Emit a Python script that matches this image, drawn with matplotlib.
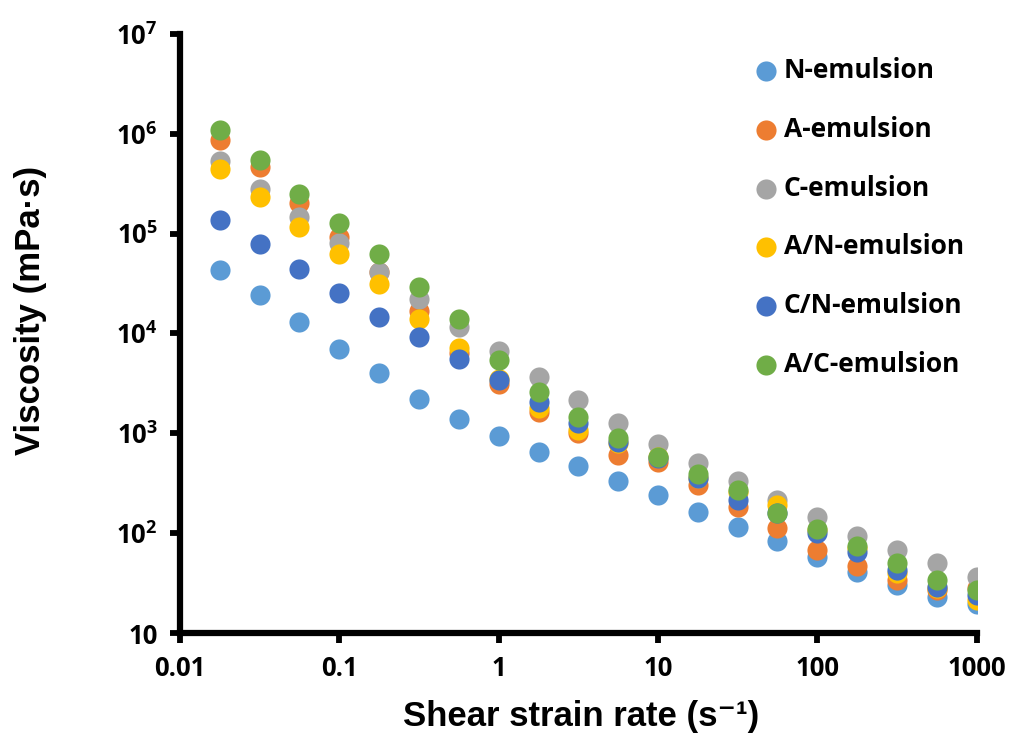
import matplotlib.pyplot as plt

# Shear rates (s^-1), 4 points per decade
shear_rate = [0.0178, 0.0316, 0.0562, 0.1, 0.178, 0.316, 0.562, 1, 1.78, 3.16,
              5.62, 10, 17.8, 31.6, 56.2, 100, 178, 316, 562, 1000]

# Viscosity (mPa·s)
n_emulsion = [43000, 24000, 13000, 7000, 4000, 2200, 1400, 940, 650, 470,
              330, 240, 163, 115, 83, 58, 41, 30, 23, 19.5]
a_emulsion = [870000, 460000, 200000, 93000, 41000, 16600, 6300, 3100, 1650, 1000,
              610, 520, 305, 182, 112, 68, 47, 34, 27, 28]
c_emulsion = [530000, 280000, 147000, 81000, 41000, 22000, 11500, 6600, 3700, 2150,
              1260, 780, 500, 330, 215, 145, 94, 68, 50, 36]
an_emulsion = [440000, 230000, 117000, 62000, 31000, 14000, 7200, 3500, 1780, 1070,
               790, 580, 360, 260, 190, 108, 71, 40, 28, 21.5]
cn_emulsion = [138000, 79000, 44000, 25600, 14700, 9100, 5500, 3450, 2050, 1260,
               820, 560, 360, 215, 160, 100, 65, 43, 29, 24]
ac_emulsion = [1090000, 550000, 250000, 128000, 62000, 29000, 14000, 5400, 2600, 1450,
               890, 580, 390, 270, 160, 110, 74, 50, 34, 27]

series = [
    ('N-emulsion', n_emulsion, '#5B9BD5'),
    ('A-emulsion', a_emulsion, '#ED7D31'),
    ('C-emulsion', c_emulsion, '#A5A5A5'),
    ('A/N-emulsion', an_emulsion, '#FFC000'),
    ('C/N-emulsion', cn_emulsion, '#4472C4'),
    ('A/C-emulsion', ac_emulsion, '#70AD47'),
]

plt.rcParams['mathtext.fontset'] = 'custom'
plt.rcParams['mathtext.bf'] = 'Open Sans:bold'
plt.rcParams['mathtext.rm'] = 'Open Sans:bold'

fig = plt.figure(figsize=(10.11, 7.34), dpi=100)
ax = fig.add_axes([0.178, 0.1376, 0.788, 0.8164])

for name, vals, col in series:
    ax.scatter(shear_rate, vals, s=210, color=col, label=name, linewidths=0, zorder=3)

ax.set_xscale('log')
ax.set_yscale('log')
ax.set_xlim(0.01, 1000)
ax.set_ylim(10, 1e7)

xt = [0.01, 0.1, 1, 10, 100, 1000]
ax.set_xticks(xt)
ax.set_xticklabels(['0.01', '0.1', '1', '10', '100', '1000'])
yt = [10, 1e2, 1e3, 1e4, 1e5, 1e6, 1e7]
ax.set_yticks(yt)
ax.set_yticklabels(['10'] + [r'$\mathbf{10^{%d}}$' % p for p in range(2, 8)])
ax.minorticks_off()

for lab in ax.get_xticklabels() + ax.get_yticklabels():
    lab.set_fontweight('bold')
    lab.set_fontsize(18.5)
    lab.set_family('Open Sans')

ax.tick_params(direction='out', length=7, width=4.2, pad=9)
for side in ['top', 'right']:
    ax.spines[side].set_visible(False)
for side in ['left', 'bottom']:
    ax.spines[side].set_linewidth(4.5)

ax.set_xlabel('Shear strain rate (s\u207b\u00b9)', fontsize=25, fontweight='bold',
              family=['Liberation Sans', 'DejaVu Sans'])
ax.set_ylabel('Viscosity (mPa\u00b7s)', fontsize=25, fontweight='bold',
              family=['Liberation Sans', 'DejaVu Sans'])
ax.xaxis.set_label_coords(0.503, -0.112)
ax.yaxis.set_label_coords(-0.167, 0.539)

ax.legend(loc='upper left', bbox_to_anchor=(0.745, 0.922),
          bbox_transform=fig.transFigure, frameon=False,
          prop={'family': 'Open Sans', 'weight': 'bold', 'size': 19},
          labelspacing=1.2, handlelength=1.0, handletextpad=0.15,
          borderpad=0, borderaxespad=0)

fig.savefig('out.png', dpi=100)
